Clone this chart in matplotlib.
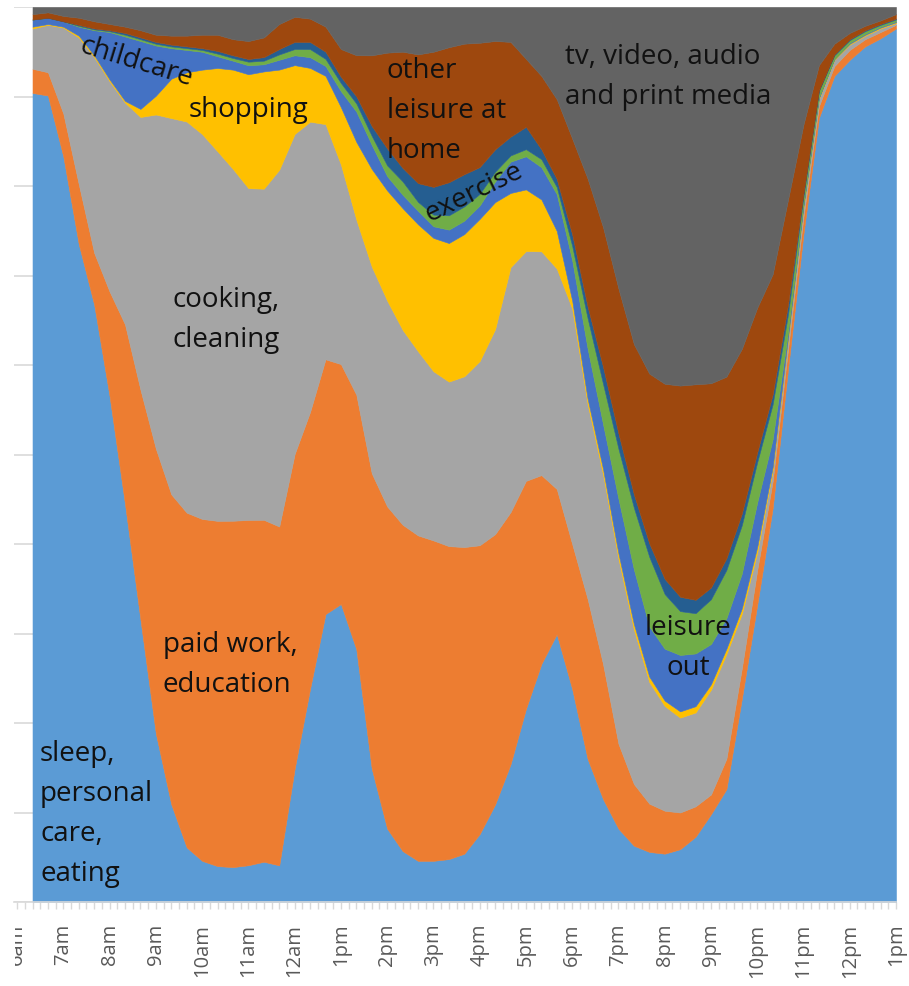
import matplotlib
matplotlib.use('Agg')
import matplotlib.pyplot as plt
from matplotlib.transforms import Bbox
import numpy as np

# minutes after 6am (20-minute samples)
minutes = [20, 40, 60, 80, 100, 120, 140, 160, 180, 200, 220, 240, 260, 280, 300,
           320, 340, 360, 380, 400, 420, 440, 460, 480, 500, 520, 540, 560, 580, 600,
           620, 640, 660, 680, 700, 720, 740, 760, 780, 800, 820, 840, 860, 880, 900,
           920, 940, 960, 980, 1000, 1020, 1040, 1060, 1080, 1100, 1120, 1140]

tick_labels = ['6am', '7am', '8am', '9am', '10am', '11am', '12am', '1pm', '2pm', '3pm',
               '4pm', '5pm', '6pm', '7pm', '8pm', '9pm', '10pm', '11pm', '12pm', '1pm']

sleep = [90.4, 90.2, 83.2, 73.5, 66.8, 56.5, 44.5, 31.6, 18.8, 10.9, 6.1, 4.6, 4.0, 3.9, 4.1,
         4.5, 4.1, 14.9, 23.8, 32.2, 33.3, 28.3, 14.9, 8.2, 5.7, 4.6, 4.6, 4.8, 5.4, 7.6,
         10.9, 15.4, 21.6, 26.6, 29.9, 23.8, 16.0, 11.5, 8.2, 6.3, 5.6, 5.4, 5.9, 7.3, 9.8,
         12.6, 22.7, 33.3, 43.9, 59.6, 74.6, 87.7, 92.2, 94.2, 95.6, 96.6, 97.7]
work = [2.7, 2.6, 4.8, 6.7, 5.8, 11.7, 20.1, 25.7, 31.8, 34.6, 37.4, 38.2, 38.5, 38.7, 38.5,
        38.2, 37.9, 35.2, 30.9, 28.5, 26.8, 28.5, 33.0, 36.0, 36.5, 36.4, 35.8, 35.0, 34.3, 32.3,
        30.2, 28.2, 25.5, 21.1, 16.2, 16.2, 17.9, 15.1, 9.5, 6.9, 5.4, 4.8, 4.1, 3.4, 2.2,
        3.4, 3.4, 3.9, 3.0, 2.2, 1.9, 1.3, 1.1, 1.1, 0.8, 0.7, 0.4]
cook = [4.5, 5.3, 9.6, 16.4, 21.9, 23.5, 24.8, 30.5, 37.3, 42.0, 43.7, 43.0, 41.2, 39.3, 37.0,
        37.0, 39.9, 35.8, 32.4, 26.3, 22.3, 19.6, 23.1, 23.0, 21.8, 20.6, 18.9, 18.4, 19.1, 20.6,
        22.9, 27.4, 25.7, 25.0, 24.6, 26.3, 21.8, 21.2, 20.7, 17.3, 13.6, 11.7, 10.6, 10.5, 11.7,
        11.7, 6.1, 2.0, 1.2, 1.1, 1.1, 0.8, 0.7, 0.6, 0.4, 0.4, 0.2]
shop = [0.2, 0.1, 0.1, 0.2, 0.2, 0.2, 0.2, 0.9, 2.1, 4.4, 5.5, 7.2, 9.3, 11.1, 12.7,
        13.1, 11.2, 7.7, 6.0, 5.4, 6.4, 8.7, 10.9, 12.3, 13.6, 14.2, 14.9, 15.5, 15.9, 15.9,
        14.2, 8.3, 6.9, 5.8, 4.2, 0.9, 0.6, 0.6, 0.6, 0.6, 0.6, 0.6, 0.7, 0.7, 0.6,
        0.6, 0.6, 0.6, 0.4, 0.2, 0.1, 0.1, 0.1, 0.1, 0.1, 0.1, 0.1]
child = [0.8, 0.7, 0.6, 1.0, 2.8, 5.3, 7.2, 7.6, 5.6, 3.4, 2.5, 2.0, 1.3, 1.0, 1.0,
         0.8, 1.1, 1.1, 1.2, 1.1, 1.8, 3.4, 2.7, 1.6, 1.5, 1.5, 1.3, 1.5, 1.5, 1.5,
         2.3, 3.5, 3.7, 3.6, 4.1, 4.5, 5.6, 5.0, 6.1, 6.1, 5.6, 5.8, 6.3, 5.9, 4.5,
         3.4, 3.9, 5.0, 3.1, 0.6, 0.2, 0.1, 0.0, 0.1, 0.1, 0.1, 0.1]
leisure_out = [0.0, 0.0, 0.0, 0.1, 0.1, 0.1, 0.2, 0.2, 0.2, 0.2, 0.2, 0.2, 0.3, 0.3, 0.4,
               0.4, 0.6, 0.7, 0.9, 0.8, 0.9, 0.9, 1.0, 1.2, 1.5, 1.0, 1.3, 1.6, 1.6, 1.3,
               1.1, 0.7, 0.8, 0.9, 0.8, 1.6, 3.4, 4.5, 5.6, 6.9, 7.8, 6.1, 4.9, 4.5, 5.0,
               5.4, 5.4, 4.5, 3.9, 2.0, 0.9, 0.7, 0.4, 0.3, 0.3, 0.2, 0.2]
exercise = [0.0, 0.0, 0.0, 0.1, 0.1, 0.1, 0.2, 0.2, 0.2, 0.2, 0.2, 0.2, 0.3, 0.3, 0.3,
            0.4, 0.6, 0.8, 0.8, 0.8, 0.7, 0.8, 1.1, 1.9, 1.5, 2.1, 3.1, 3.7, 3.6, 3.0,
            2.5, 2.1, 2.5, 1.1, 0.9, 1.3, 1.3, 1.9, 1.7, 1.5, 1.5, 1.7, 1.6, 1.5, 1.3,
            1.3, 1.3, 1.1, 1.1, 1.1, 0.3, 0.1, 0.1, 0.1, 0.1, 0.1, 0.1]
home = [0.6, 0.6, 0.6, 0.8, 0.8, 0.7, 0.7, 0.8, 0.8, 1.0, 1.2, 1.5, 1.8, 1.8, 2.0,
        2.2, 2.8, 2.8, 2.6, 2.8, 3.1, 4.6, 7.9, 10.7, 13.0, 14.4, 15.1, 15.1, 14.6, 13.9,
        12.1, 10.6, 7.6, 8.2, 8.9, 10.7, 14.3, 15.6, 16.2, 16.8, 19.0, 21.8, 23.6, 24.1, 22.8,
        20.3, 18.4, 16.2, 13.4, 11.7, 7.7, 2.8, 1.2, 0.7, 0.5, 0.4, 0.5]
media = [0.8, 0.6, 1.0, 1.2, 1.6, 1.9, 2.2, 2.6, 3.1, 3.2, 3.2, 3.1, 3.1, 3.6, 3.8,
         3.4, 1.9, 1.1, 1.3, 2.2, 4.7, 5.4, 5.4, 5.1, 5.0, 5.3, 5.0, 4.5, 4.1, 4.0,
         3.8, 3.9, 5.8, 7.7, 10.3, 14.7, 19.2, 24.6, 31.5, 37.7, 41.0, 42.1, 42.3, 42.2, 42.0,
         41.3, 38.2, 33.7, 29.8, 21.5, 13.1, 6.5, 4.1, 2.9, 2.1, 1.5, 0.8]

colors = ['#5B9BD5', '#ED7D31', '#A5A5A5', '#FFC000', '#4472C4',
          '#70AD47', '#255E91', '#9E480E', '#636363']

plt.rcParams['font.family'] = ['Open Sans', 'DejaVu Sans']

W, H = 909, 987
fig = plt.figure(figsize=(W / 100, H / 100), dpi=100)
L, R, T, B = 14, 896, 8, 903
ax = fig.add_axes([L / W, 1 - B / H, (R - L) / W, (B - T) / H])

vals = np.array([sleep, work, cook, shop, child, leisure_out, exercise, home, media], dtype=float)
vals = vals / vals.sum(axis=0) * 100.0

polys = ax.stackplot(minutes, vals, colors=colors, zorder=2)
for p, c in zip(polys, colors):
    p.set_edgecolor(c)
    p.set_linewidth(0.4)

ax.set_xlim(-4, 1140)
ax.set_ylim(0, 100)
ax.set_yticks(range(0, 101, 10))
ax.yaxis.grid(True, color='#D9D9D9', linewidth=1.2, zorder=0)
ax.set_axisbelow(True)
ax.tick_params(axis='y', length=0, labelleft=False)

ax.set_xticks(range(0, 1141, 60))
ax.set_xticklabels(tick_labels, rotation=90, fontsize=14.5, color='#595959')
ax.set_xticks(range(0, 1141, 10), minor=True)
ax.tick_params(axis='x', which='both', length=5, width=1, color='#D9D9D9', pad=10)

# the first label is cut at the left edge in the original picture
first = ax.get_xticklabels()[0]
first.set_clip_box(Bbox([[15, 0], [W, H]]))
first.set_clip_on(True)

for s in ['top', 'right', 'left']:
    ax.spines[s].set_visible(False)
ax.spines['bottom'].set_color('#D9D9D9')
ax.spines['bottom'].set_linewidth(1.2)

def ftxt(x, y, s, **kw):
    fig.text(x / W, 1 - y / H, s, fontsize=20, color='#111111', linespacing=1.58, **kw)

ftxt(565, 77, 'tv, video, audio\nand print media', ha='left', va='center')
ftxt(387, 111, 'other\nleisure at\nhome', ha='left', va='center')
ftxt(248, 110, 'shopping', ha='center', va='center')
ftxt(136, 62, 'childcare', ha='center', va='center', rotation=-17, rotation_mode='anchor')
ftxt(474, 193, 'exercise', ha='center', va='center', rotation=26, rotation_mode='anchor')
ftxt(173, 320, 'cooking,\ncleaning', ha='left', va='center')
ftxt(163, 665, 'paid work,\neducation', ha='left', va='center')
ftxt(688, 648, 'leisure\nout', ha='center', va='center', multialignment='center')
ftxt(40, 814, 'sleep,\npersonal\ncare,\neating', ha='left', va='center')

fig.savefig('out.png', dpi=100, facecolor='white')
